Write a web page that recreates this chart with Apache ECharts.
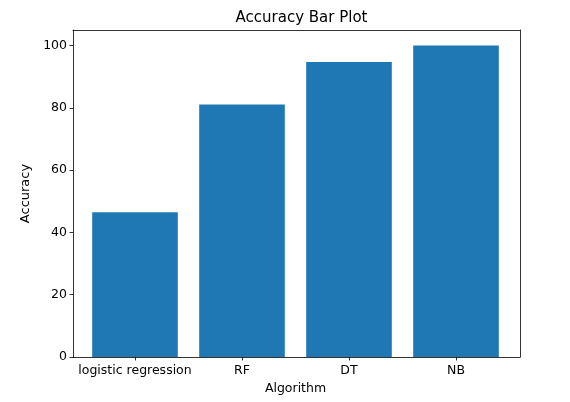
<!DOCTYPE html>
<html style="height: 100%">
<head>
	<meta charset="utf-8">
</head>
<body style="height: 100%; margin: 0">
	<div id="container" style="width: 570px; height: 402px"></div>
	<script type="text/javascript" src="https://cdn.jsdelivr.net/npm/echarts@6/dist/echarts.min.js"></script>
	<script type="text/javascript">
		var algorithms = ['logistic regression', 'RF', 'DT', 'NB'];
		var accuracy = [46.5, 81.1, 94.7, 100];

		var font = 'DejaVu Sans';
		var chart = echarts.init(document.getElementById('container'), null, { renderer: 'canvas' });

		var frameLine = { show: true, onZero: false, lineStyle: { color: '#000', width: 0.8 } };
		var tickStyle = { color: '#000', width: 0.8 };

		var option = {
			animation: false,
			textStyle: { fontFamily: font },
			title: {
				text: 'Accuracy Bar Plot',
				left: 296.5, top: 6, textAlign: 'center',
				textStyle: { fontFamily: font, fontSize: 15, fontWeight: 'normal', color: '#000' }
			},
			grid: [
				// frame + y axis
				{ left: 73, right: 50, top: 30, bottom: 45 },
				// bars, matplotlib-style margins
				{ left: 81.5, right: 60.5, top: 30, bottom: 45 }
			],
			xAxis: [
				{ gridIndex: 0, type: 'value', min: 0, max: 1, position: 'bottom',
					axisLine: frameLine, axisTick: { show: false }, axisLabel: { show: false }, splitLine: { show: false } },
				{ gridIndex: 0, type: 'value', min: 0, max: 1, position: 'top',
					axisLine: frameLine, axisTick: { show: false }, axisLabel: { show: false }, splitLine: { show: false } },
				{ gridIndex: 1, type: 'category', data: algorithms, position: 'bottom',
					axisLine: { show: false },
					axisTick: { show: true, alignWithLabel: true, length: 3.5, lineStyle: tickStyle },
					axisLabel: { color: '#000', fontSize: 12.5, margin: 7, interval: 0, fontFamily: font },
					name: 'Algorithm', nameLocation: 'middle', nameGap: 25,
					nameTextStyle: { color: '#000', fontSize: 12.5, fontFamily: font } }
			],
			yAxis: [
				{ gridIndex: 0, type: 'value', min: 0, max: 105, interval: 20, position: 'left',
					axisLine: frameLine,
					axisTick: { show: true, length: 3.5, lineStyle: tickStyle },
					axisLabel: { color: '#000', fontSize: 12.5, margin: 6, fontFamily: font, showMaxLabel: false },
					splitLine: { show: false },
					name: 'Accuracy', nameLocation: 'middle', nameGap: 38, nameRotate: 90,
					nameTextStyle: { color: '#000', fontSize: 13, fontFamily: font } },
				{ gridIndex: 0, type: 'value', min: 0, max: 105, position: 'right',
					axisLine: frameLine, axisTick: { show: false }, axisLabel: { show: false }, splitLine: { show: false } },
				{ gridIndex: 1, type: 'value', min: 0, max: 105, show: false }
			],
			series: [{
				type: 'bar',
				xAxisIndex: 2,
				yAxisIndex: 2,
				data: accuracy,
				barWidth: '80%',
				itemStyle: { color: '#1f77b4' }
			}]
		};

		chart.setOption(option);
	</script>
</body>
</html>
